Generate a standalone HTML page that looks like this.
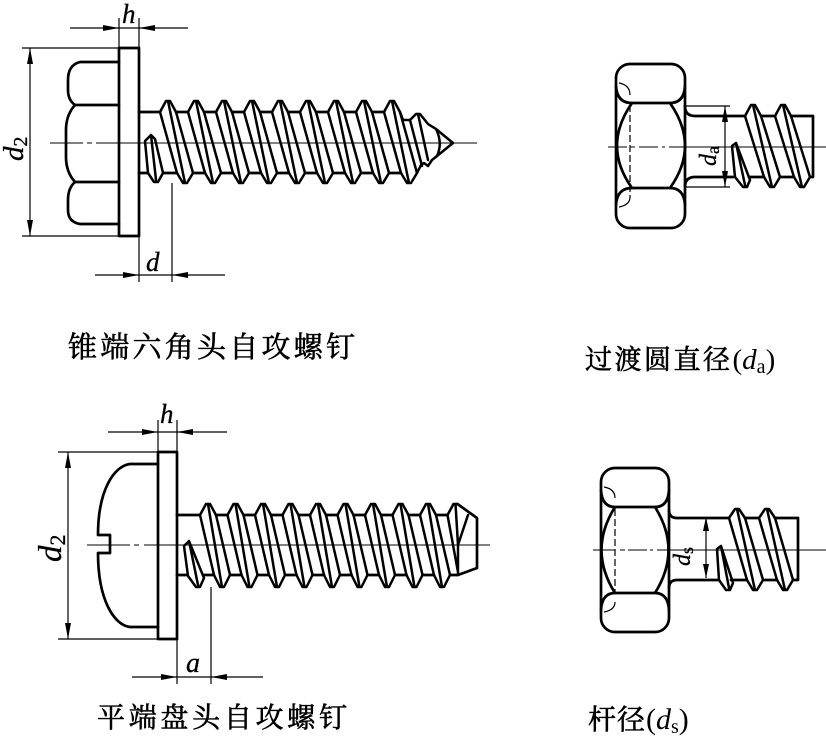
<!DOCTYPE html>
<html><head><meta charset="utf-8"><style>
html,body{margin:0;padding:0;background:#fff;}
svg{display:block;}
.o{fill:none;stroke:#000;stroke-width:2.7;stroke-linejoin:round;stroke-linecap:round;}
.t{fill:none;stroke:#000;stroke-width:2.5;stroke-linejoin:round;stroke-linecap:round;}
.n{fill:none;stroke:#000;stroke-width:1.2;}
.c{fill:none;stroke:#000;stroke-width:1;}
.a{fill:#000;stroke:none;}
.lab{font-family:"Liberation Serif",serif;font-style:italic;fill:#000;stroke:#000;stroke-width:0.3;}
.cn{font-family:"Liberation Serif","Noto Serif CJK SC","Noto Sans CJK SC",serif;fill:#000;stroke:#000;stroke-width:0.6;}
</style></head><body>
<svg width="826" height="736" viewBox="0 0 826 736" xmlns="http://www.w3.org/2000/svg">
<defs>
<path id="tA" class="t" d="M-8,112 L-2,101 L2,101 L8,112 M9,173 L15,183 L19,183 L25,173 M-8,112 L9,173 M0,101 L17,183 M8,112 L25,173"/>
<path id="tB" class="t" d="M-8,116 L-2,105 L2,105 L8,116 M11,177 L17,187 L21,187 L27,177 M-8,116 L11,177 M0,105 L19,187 M8,116 L27,177"/>
<path id="tC" class="t" d="M-8,518 L-2,509 L2,509 L8,518 M10,580 L16,590 L20,590 L26,580 M-8,518 L10,580 M0,509 L18,590 M8,518 L26,580"/>
<path id="tD" class="t" d="M-8,515 L-2,504 L2,504 L8,515 M6,575 L12,587 L16,587 L22,575 M-8,515 L6,575 M0,504 L14,587 M8,515 L22,575"/>
</defs>

<!-- ============ TOP-LEFT ============ -->
<path class="c" d="M50,143 L83,143 M87,143 L92,143 M96,143 L477,143"/>
<rect class="o" x="119" y="48" width="20" height="188"/>
<path class="o" d="M119,62 L80,62 Q68,65 68,80 L68,90 Q68,100 75,105 Q66,115 66,130 L66,157 Q66,172 75,182 Q68,188 68,200 L68,210 Q68,222 80,224 L119,224"/>
<path class="o" d="M75,105 L119,105 M75,182 L119,182"/>
<path class="o" d="M139,112 L160,112 M139,173 L148,173 M163,173 L177,173"/>
<line class="o" x1="176" y1="112" x2="384" y2="112" stroke-dasharray="12,16" stroke-linecap="butt"/>
<line class="o" x1="193" y1="173" x2="401" y2="173" stroke-dasharray="12,16" stroke-linecap="butt"/>
<path class="t" d="M145,141 L151,135 L155,139 L163,173 L158,182 L154,182 L148,173 Z M151,135 L156,180"/>
<use href="#tA" x="168"/><use href="#tA" x="196"/><use href="#tA" x="224"/>
<use href="#tA" x="252"/><use href="#tA" x="280"/><use href="#tA" x="308"/>
<use href="#tA" x="336"/><use href="#tA" x="364"/><use href="#tA" x="392"/>
<path class="t" d="M400,112 L403,120 L410,120 L416,114 L420,114 L428,124 L436,129 L453,143 L437,156 L432,160 L428,166 L424,163 L421,165 L417,173"/>
<path class="t" d="M410,120 L422,166 M418,114 L428,160 M436,129 Q443,143 437,156"/>
<path class="n" d="M70,28 L188,28 M119,18 L119,48 M139,18 L139,48"/>
<polygon class="a" points="119,28 103,25 103,31"/>
<polygon class="a" points="139,28 155,25 155,31"/>
<text class="lab" x="122" y="23" font-size="27">h</text>
<path class="n" d="M30,48 L30,236 M22,48 L119,48 M22,236 L119,236"/>
<polygon class="a" points="30,48 27,64 33,64"/>
<polygon class="a" points="30,236 27,220 33,220"/>
<text class="lab" transform="translate(23,161) rotate(-90)" font-size="29">d<tspan font-style="normal" font-size="20" dy="4">2</tspan></text>
<path class="n" d="M95,275 L225,275 M139,236 L139,282 M172,183 L172,282"/>
<polygon class="a" points="139,275 123,272 123,278"/>
<polygon class="a" points="172,275 188,272 188,278"/>
<text class="lab" x="146" y="271" font-size="27">d</text>

<text class="cn" x="68" y="357" font-size="29" textLength="287" lengthAdjust="spacing">锥端六角头自攻螺钉</text>

<!-- ============ TOP-RIGHT ============ -->
<path class="c" d="M608,147 L627,147 M630,147 L635,147 M639,147 L658,147 M662,147 L665,147 M669,147 L826,147"/>
<rect class="o" x="616" y="64" width="69" height="164" rx="14" ry="14"/>
<path class="o" d="M632,103 L670,103 M632,188 L670,188 M632,103 Q602,146 632,188 M670,103 Q700,146 670,188 M616,86 Q617,103 632,103 M685,86 Q684,103 670,103 M616,205 Q617,188 632,188 M685,205 Q684,188 670,188"/>
<path class="n" d="M630,105 L630,197" stroke-dasharray="7,3"/>
<path class="n" d="M619,83 Q630,85 630,95 M619,207 Q630,205 630,197"/>
<path class="o" d="M685,106 Q685,116 695,116 L745,116 M685,187 Q685,177 695,177 L733,177 M749,177 L764,177 M780,177 L794,177 M761,116 L775,116 M791,116 L813,116 L813,177 L810,177"/>
<path class="t" d="M732,146 L736,143 L750,180 L747,187 L743,187 L735,177 Z M736,143 L745,185"/>
<use href="#tB" x="753"/><use href="#tB" x="783"/>
<path class="n" d="M685,106 L730,106 M685,187 L730,187 M725,106 L725,187"/>
<polygon class="a" points="725,106 722,122 728,122"/>
<polygon class="a" points="725,187 722,171 728,171"/>
<text class="lab" transform="translate(716,166) rotate(-90)" font-size="24">d<tspan font-style="normal" font-size="18" dy="3">a</tspan></text>

<text class="cn" x="585" y="369" font-size="27"><tspan textLength="145" lengthAdjust="spacing">过渡圆直径</tspan><tspan font-family="Liberation Serif" font-size="29" stroke-width="0">(</tspan><tspan font-family="Liberation Serif" font-size="29" font-style="italic" stroke-width="0">d</tspan><tspan font-family="Liberation Serif" font-size="20" dy="4" stroke-width="0">a</tspan><tspan font-family="Liberation Serif" font-size="29" dy="-4" stroke-width="0">)</tspan></text>

<!-- ============ BOTTOM-LEFT ============ -->
<path class="c" d="M87,545 L130,545 M134,545 L139,545 M144,545 L490,545"/>
<rect class="o" x="158" y="452" width="19" height="187"/>
<path class="o" d="M158,464 L130,464 C114,466 98,490 98,535 L110,535 L110,553 L98,553 C98,600 114,625 130,627 L158,627"/>
<path class="o" d="M177,515 L200,515 M177,575 L187,575 M203,575 L214,575 M450,575 L458,575 L477,568 L477,518 L457.5,504"/>
<line class="o" x1="216" y1="515" x2="447.5" y2="515" stroke-dasharray="11.5,16" stroke-linecap="butt"/>
<line class="o" x1="230" y1="575" x2="434" y2="575" stroke-dasharray="11.5,16" stroke-linecap="butt"/>
<path class="t" d="M184,546 L189,541 L204,578 L200,587 L196,587 L188,576 Z M189,541 L198,585"/>
<use href="#tD" x="208"/><use href="#tD" x="235.5"/><use href="#tD" x="263"/>
<use href="#tD" x="290.5"/><use href="#tD" x="318"/><use href="#tD" x="345.5"/>
<use href="#tD" x="373"/><use href="#tD" x="400.5"/><use href="#tD" x="428"/>
<path class="t" d="M447.5,515 L453.5,504 L457.5,504 M447.5,515 L458,572 M455.5,504 L458,545 M468,515 L458,545 L458,575"/>
<path class="n" d="M108,432 L227,432 M158,420 L158,452 M177,420 L177,452"/>
<polygon class="a" points="158,432 142,429 142,435"/>
<polygon class="a" points="177,432 193,429 193,435"/>
<text class="lab" x="160" y="423" font-size="27">h</text>
<path class="n" d="M68,452 L68,639 M58,452 L158,452 M58,639 L158,639"/>
<polygon class="a" points="68,452 65,468 71,468"/>
<polygon class="a" points="68,639 65,623 71,623"/>
<text class="lab" transform="translate(61,562) rotate(-90)" font-size="33">d<tspan font-style="normal" font-size="22" dy="4">2</tspan></text>
<path class="n" d="M132,677 L263,677 M177,639 L177,684 M211,587 L211,684"/>
<polygon class="a" points="177,677 161,674 161,680"/>
<polygon class="a" points="211,677 227,674 227,680"/>
<text class="lab" x="186" y="672" font-size="28">a</text>

<text class="cn" x="97" y="727" font-size="28" textLength="250" lengthAdjust="spacing">平端盘头自攻螺钉</text>

<!-- ============ BOTTOM-RIGHT ============ -->
<path class="c" d="M593,550 L615,550 M620,550 L625,550 M628,550 L647,550 M650,550 L653,550 M657,550 L826,550"/>
<rect class="o" x="601" y="468" width="68" height="164" rx="14" ry="14"/>
<path class="o" d="M615,507 L655,507 M615,593 L655,593 M615,507 Q588,550 615,593 M655,507 Q682,550 655,593 M601,490 Q602,507 615,507 M669,490 Q668,507 655,507 M601,610 Q602,593 615,593 M669,610 Q668,593 655,593"/>
<path class="n" d="M615,509 L615,592" stroke-dasharray="7,3"/>
<path class="n" d="M604,487 Q615,489 615,498 M604,612 Q615,610 615,602"/>
<path class="o" d="M669,510 Q669,518 677,518 L729,518 M669,588 Q669,580 677,580 L718,580 M731,580 L747,580 M763,580 L777,580 M745,518 L759,518 M775,518 L798,518 L798,580 L793,580"/>
<path class="t" d="M717,549 L721,546 L733,583 L730,590 L726,590 L719,580 Z M721,546 L729,588"/>
<use href="#tC" x="737"/><use href="#tC" x="767"/>
<path class="n" d="M706,517 L706,578"/>
<polygon class="a" points="706,517 703,531 709,531"/>
<polygon class="a" points="706,578 703,564 709,564"/>
<text class="lab" transform="translate(690,566) rotate(-90)" font-size="24">d<tspan font-style="normal" font-size="18" dy="3">s</tspan></text>

<text class="cn" x="588" y="729" font-size="28"><tspan textLength="57" lengthAdjust="spacing">杆径</tspan><tspan font-family="Liberation Serif" font-size="30" stroke-width="0">(</tspan><tspan font-family="Liberation Serif" font-size="30" font-style="italic" stroke-width="0">d</tspan><tspan font-family="Liberation Serif" font-size="20" dy="4" stroke-width="0">s</tspan><tspan font-family="Liberation Serif" font-size="30" dy="-4" stroke-width="0">)</tspan></text>
</svg>
</body></html>
